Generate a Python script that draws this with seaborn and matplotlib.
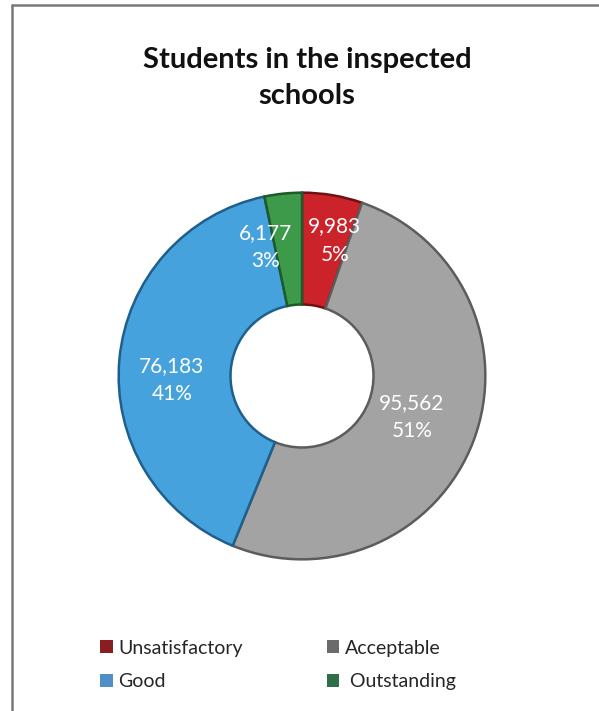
import numpy as np
import seaborn as sns
import matplotlib.pyplot as plt
from matplotlib.lines import Line2D
from matplotlib.patches import Patch

# data
categories = ["Unsatisfactory", "Acceptable", "Good", "Outstanding"]
students = [9983, 95562, 76183, 6177]
percent_labels = ["5%", "51%", "41%", "3%"]

ring_colors = ["#cc2229", "#a3a3a3", "#46a2dc", "#3d9a4b"]
edge_colors = ["#6e1014", "#5c5c5c", "#1f5f8c", "#1d5a2a"]
legend_colors = ["#8a1d20", "#6b6b6b", "#4f8fc4", "#2f6f48"]

sns.set_style("white")
plt.rcParams["font.family"] = ["Lato", "DejaVu Sans"]

W, H = 599, 711
fig = plt.figure(figsize=(W / 100, H / 100), dpi=100)

# donut: centre (302, 376) px, radius 187 px
cx, cy, R = 302, 376, 187
ax = fig.add_axes([(cx - R) / W, (H - cy - R) / H, 2 * R / W, 2 * R / H])
wedges, _ = ax.pie(
    students,
    colors=ring_colors,
    startangle=90,
    counterclock=False,
    radius=1.0,
    wedgeprops=dict(width=0.61, linewidth=1.8),
)
for w, ec in zip(wedges, edge_colors):
    w.set_edgecolor(ec)
ax.set_xlim(-1.02, 1.02)
ax.set_ylim(-1.02, 1.02)
ax.set_aspect("equal")
ax.axis("off")

# labels roughly where the original places them
shift_deg = [-4, 0, 7, 10]
label_r = [0.76, 0.64, 0.71, 0.73]
for w, n, p, s, r in zip(wedges, students, percent_labels, shift_deg, label_r):
    mid = np.deg2rad((w.theta1 + w.theta2) / 2 + s)
    ax.text(r * np.cos(mid), r * np.sin(mid), f"{n:,}\n{p}",
            ha="center", va="center", color="white", fontsize=15,
            linespacing=1.5)

# title
fig.text(307 / W, 1 - 78 / H, "Students in the inspected\nschools",
         ha="center", va="center", fontsize=21, fontweight="bold",
         linespacing=1.45, color="#111111")

# legend
handles = [Patch(facecolor=c, edgecolor="none") for c in legend_colors]
order = [0, 2, 1, 3]
leg_labels = [categories[i] for i in order]
leg_labels[3] = " " + leg_labels[3]
fig.legend([handles[i] for i in order], leg_labels,
           ncol=2, loc="center left",
           bbox_to_anchor=(100 / W, 1 - 665 / H),
           frameon=False, fontsize=14,
           handlelength=0.65, handleheight=0.65, handletextpad=0.3,
           columnspacing=4.3, labelspacing=0.85,
           borderpad=0, borderaxespad=0)

# frame lines of the original box
fig.add_artist(Line2D([12 / W, 12 / W], [0, 1 - 5 / H], color="#7a7a7a", lw=1.8))
fig.add_artist(Line2D([12 / W, 1], [1 - 5 / H, 1 - 5 / H], color="#7a7a7a", lw=1.8))

fig.savefig("out.png", dpi=100)
